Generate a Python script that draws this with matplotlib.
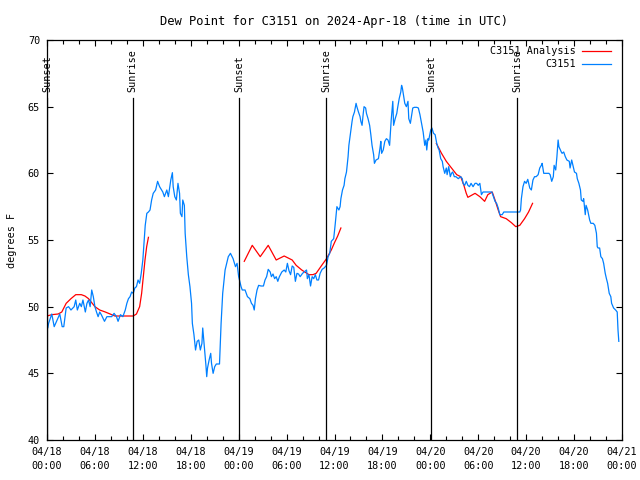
import numpy as np
import matplotlib
matplotlib.use('Agg')
import matplotlib.pyplot as plt
import matplotlib.transforms as mtransforms

nan = np.nan

# hours since 2024-04-18 00:00 UTC
dew_hours = [0.0, 0.1, 0.2, 0.6, 0.9, 1.2, 1.6, 1.9, 2.1, 2.4, 2.7, 3.0, 3.4, 3.6, 3.8, 4.1, 4.3, 4.5, 4.8, 5.0,
             5.2, 5.4, 5.6, 5.8, 6.0, 6.2, 6.4, 6.6, 6.8, 7.2, 7.5, 8.1, 8.4, 8.7, 8.9, 9.2, 9.5, 9.8, 10.0, 10.2,
             10.4, 10.6, 10.8, 11.0, 11.2, 11.4, 11.6, 11.8, 12.0, 12.15, 12.3, 12.5, 12.7, 12.9, 13.1, 13.3, 13.6,
             13.85, 14.1, 14.5, 14.7, 15.0, 15.2, 15.5, 15.7, 15.8, 16.0, 16.2, 16.4, 16.6, 16.7, 16.9, 17.0, 17.2,
             17.3, 17.5, 17.7, 17.9, 18.1, 18.2, 18.4, 18.6, 18.8, 19.0, 19.2, 19.4, 19.5, 19.7, 19.9, 20.0, 20.1,
             20.3, 20.5, 20.6, 20.8, 21.0, 21.2, 21.6, 21.8, 22.0, 22.3, 22.5, 22.7, 22.97, 23.3, 23.6, 23.8, 24.0,
             24.3, 24.45, 24.8, 25.1, 25.4, 25.6, 25.8, 25.95, 26.1, 26.3, 26.5, 26.8, 27.1, 27.3, 27.5, 27.7, 27.95,
             28.1, 28.3, 28.5, 28.7, 28.9, 29.1, 29.4, 29.7, 29.9, 30.1, 30.3, 30.5, 30.7, 30.9, 31.1, 31.3, 31.5,
             31.7, 32.0, 32.2, 32.5, 32.6, 32.8, 33.0, 33.2, 33.4, 33.6, 33.8, 34.0, 34.2, 34.45, 34.7, 35.0, 35.2,
             35.4, 35.6, 35.9, 36.1, 36.3, 36.55, 36.7, 36.8, 37.0, 37.2, 37.3, 37.5, 37.7, 37.8, 38.0, 38.2, 38.3,
             38.5, 38.7, 38.8, 39.0, 39.2, 39.3, 39.45, 39.6, 39.7, 39.9, 40.0, 40.2, 40.4, 40.55, 40.7, 40.9, 41.0,
             41.2, 41.5, 41.7, 41.8, 41.9, 42.1, 42.3, 42.5, 42.7, 42.9, 43.1, 43.3, 43.4, 43.6, 43.8, 43.9, 44.1,
             44.3, 44.4, 44.5, 44.7, 44.8, 45.0, 45.2, 45.3, 45.5, 45.7, 45.8, 46.0, 46.3, 46.5, 46.7, 46.9, 47.1,
             47.3, 47.45, 47.55, 47.7, 47.8, 48.05, 48.2, 48.4, 48.6, 48.8, 48.97, 49.1, 49.3, 49.5, 49.6, 49.8,
             50.0, 50.1, 50.3, 50.5, 50.65, 50.8, 51.0, 51.2, 51.5, 51.8, 52.0, 52.1, 52.3, 52.5, 52.7, 52.9, 53.1,
             53.35, 53.6, 53.8, 54.0, 54.2, 54.4, 54.6, 55.2, 55.7, 55.9, 56.1, 56.3, 56.5, 56.7, 57.0, 57.2, 59.2,
             59.3, 59.4, 59.6, 59.8, 60.0, 60.2, 60.45, 60.65, 60.85, 61.05, 61.25, 61.5, 61.7, 61.9, 62.0, 62.2,
             62.5, 62.85, 63.0, 63.2, 63.4, 63.5, 63.7, 63.85, 64.0, 64.1, 64.4, 64.5, 64.7, 64.9, 65.1, 65.4, 65.5,
             65.7, 65.9, 66.05, 66.3, 66.4, 66.6, 66.8, 66.9, 67.1, 67.2, 67.4, 67.5, 67.7, 67.95, 68.1, 68.4, 68.6,
             68.8, 68.9, 69.0, 69.2, 69.35, 69.55, 69.7, 69.9, 70.05, 70.2, 70.4, 70.6, 70.7, 70.95, 71.2, 71.4,
             71.5, 71.6]
dew_values = [49.0, 48.4, 48.75, 49.45, 48.5, 48.9, 49.45, 48.5, 48.5, 49.9, 50.0, 49.75, 50.0, 50.5, 49.75, 50.25,
              50.0, 50.5, 49.6, 50.25, 50.5, 50.0, 51.25, 50.75, 50.0, 49.6, 49.25, 49.6, 49.4, 48.9, 49.25, 49.25,
              49.5, 49.25, 48.9, 49.4, 49.25, 49.75, 50.25, 50.6, 50.75, 51.1, 51.0, 51.4, 51.5, 52.0, 51.75, 52.5,
              53.5, 54.75, 56.1, 57.0, 57.1, 57.25, 58.0, 58.5, 58.75, 59.4, 59.0, 58.6, 58.25, 58.75, 58.25, 59.5,
              60.05, 59.0, 58.25, 58.0, 59.25, 58.5, 57.0, 56.75, 58.0, 57.6, 55.5, 53.75, 52.4, 51.5, 50.25, 48.75,
              47.9, 46.75, 47.4, 47.5, 46.75, 47.25, 48.4, 47.0, 45.6, 44.75, 45.4, 46.0, 46.5, 45.75, 45.0, 45.5,
              45.7, 45.7, 48.75, 51.0, 52.75, 53.25, 53.75, 54.0, 53.6, 53.0, 53.25, 52.25, 51.5, 51.25, 51.25, 50.75,
              50.6, 50.25, 50.1, 49.75, 50.6, 51.25, 51.6, 51.55, 51.55, 52.0, 52.25, 52.8, 52.6, 52.25, 52.45, 52.1,
              52.25, 51.9, 52.25, 52.6, 52.75, 52.6, 53.25, 52.7, 52.4, 53.05, 52.95, 51.9, 52.5, 52.45, 52.25, 52.5,
              52.6, 52.75, 52.1, 52.4, 51.55, 52.25, 52.1, 52.4, 52.0, 52.0, 52.5, 52.8, 52.9, 53.1, 53.75, 54.0,
              54.9, 55.1, 56.25, 57.5, 57.25, 57.5, 58.1, 58.75, 59.1, 59.6, 60.1, 61.25, 62.1, 63.0, 63.9, 64.25,
              64.6, 65.25, 65.0, 64.6, 64.25, 63.9, 63.6, 64.5, 65.0, 64.9, 64.5, 64.1, 63.6, 62.9, 62.1, 61.4,
              60.75, 61.0, 61.1, 61.9, 62.4, 61.5, 61.75, 62.4, 62.6, 62.5, 62.1, 64.0, 65.4, 63.6, 64.1, 64.5, 64.9,
              65.6, 66.1, 66.6, 66.4, 65.6, 65.25, 65.0, 65.4, 64.1, 63.75, 64.5, 64.9, 64.95, 64.95, 64.9, 64.4,
              63.75, 63.1, 62.1, 62.5, 61.75, 62.6, 62.5, 63.25, 63.4, 63.0, 62.9, 62.25, 61.9, 61.75, 61.1, 60.9,
              60.5, 60.0, 60.4, 59.9, 60.5, 59.75, 60.0, 60.1, 59.75, 59.75, 59.6, 59.75, 59.6, 59.25, 59.1, 59.4,
              59.1, 59.0, 59.25, 59.0, 59.25, 59.25, 59.1, 59.25, 58.4, 58.6, 58.6, 58.6, 58.25, 57.9, 57.75, 57.4,
              56.9, 56.9, 57.1, 57.1, 57.25, 58.1, 59.0, 59.4, 59.25, 59.55, 58.9, 58.75, 59.5, 59.75, 59.75, 59.9,
              60.4, 60.6, 60.75, 60.0, 60.0, 60.0, 59.9, 59.4, 59.75, 60.6, 60.25, 61.25, 62.5, 62.0, 61.6, 61.5,
              61.6, 61.25, 61.0, 60.9, 60.4, 61.0, 60.5, 60.1, 60.0, 59.6, 59.25, 58.75, 58.0, 57.9, 58.1, 56.9,
              57.6, 57.25, 56.5, 56.25, 56.25, 56.1, 55.5, 54.5, 54.4, 54.4, 53.75, 53.6, 53.25, 52.5, 52.1, 51.75,
              51.0, 50.75, 50.25, 49.9, 49.75, 49.6, 48.25, 47.4]

# analysis runs, separated by gaps
ana_hours = [0.0, 0.6, 1.4, 1.85, 2.4, 3.0, 3.6, 4.3, 4.75, 5.2, 6.0, 6.6, 7.3, 7.9, 8.5, 10.8, 11.2, 11.6, 11.85,
             12.06, 12.27, 12.48, 12.7, nan,
             24.7, 25.7, 26.7, 27.7, 28.7, 29.7, 30.7, 31.2, 31.9, 32.8, 33.3, 33.7, 34.4, 35.0, 35.6, 36.0, 36.4,
             36.8, nan,
             48.75, 49.4, 50.0, 50.65, 51.3, 51.8, 52.2, 52.5, 52.7, 53.6, 54.2, 54.8, 55.2, 55.75, 56.1, 56.5, 56.8,
             57.5, 58.15, 58.7, 59.2, 59.8, 60.3, 60.8]
ana_values = [49.3, 49.4, 49.45, 49.6, 50.25, 50.6, 50.9, 50.9, 50.8, 50.6, 50.0, 49.75, 49.6, 49.45, 49.3, 49.3,
              49.45, 50.0, 51.0, 52.25, 53.5, 54.5, 55.2, nan,
              53.4, 54.6, 53.75, 54.6, 53.5, 53.8, 53.5, 53.1, 52.75, 52.4, 52.4, 52.5, 53.1, 53.6, 54.25, 54.8,
              55.3, 55.9, nan,
              62.25, 61.5, 60.9, 60.4, 59.9, 59.75, 59.1, 58.5, 58.2, 58.5, 58.25, 57.9, 58.4, 58.6, 58.0, 57.25,
              56.75, 56.6, 56.3, 56.0, 56.1, 56.6, 57.1, 57.75]

event_hours = [0.05, 10.75, 24.1, 34.95, 48.1, 58.9]
event_names = ['Sunset', 'Sunrise', 'Sunset', 'Sunrise', 'Sunset', 'Sunrise']

tick_hours = list(range(0, 73, 6))
tick_labels = ['04/18\n00:00', '04/18\n06:00', '04/18\n12:00', '04/18\n18:00',
               '04/19\n00:00', '04/19\n06:00', '04/19\n12:00', '04/19\n18:00',
               '04/20\n00:00', '04/20\n06:00', '04/20\n12:00', '04/20\n18:00',
               '04/21\n00:00']

plt.rcParams['font.family'] = ['DejaVu Sans Mono']
plt.rcParams['font.size'] = 7.3

fig = plt.figure(figsize=(6.4, 4.8), dpi=100)
ax = fig.add_axes([47 / 640, 40 / 480, 575 / 640, 400 / 480])

ax.plot(ana_hours, ana_values, color='#ff0000', lw=0.9, label='C3151 Analysis')
ax.plot(dew_hours, dew_values, color='#0080ff', lw=0.9, label='C3151')

trans = mtransforms.blended_transform_factory(ax.transData, ax.transAxes)
for h, name in zip(event_hours, event_names):
    ax.axvline(h, ymax=0.855, color='black', lw=0.9)
    ax.text(h, 0.87, name, rotation=90, ha='center', va='bottom', transform=trans)

ax.set_xlim(0, 72)
ax.set_ylim(40, 70)
ax.set_xticks(tick_hours)
ax.set_xticklabels(tick_labels)
ax.set_xticks(range(0, 73, 2), minor=True)
ax.set_yticks(range(40, 71, 5))
ax.tick_params(which='major', direction='in', top=True, right=True, length=4.5, width=0.8, pad=5)
ax.tick_params(which='minor', direction='in', top=True, bottom=True, length=3, width=0.8)
for t in ax.get_xticklabels():
    t.set_linespacing(1.5)
for s in ax.spines.values():
    s.set_linewidth(0.9)

ax.set_ylabel('degrees F', labelpad=8)
ax.set_title('Dew Point for C3151 on 2024-Apr-18 (time in UTC)', pad=11)
ax.legend(loc='upper right', bbox_to_anchor=(0.992, 1.0), frameon=False, markerfirst=False,
          handlelength=2.9, handletextpad=0.6, borderaxespad=0.2, labelspacing=0.3)

fig.savefig('out.png', dpi=100)
